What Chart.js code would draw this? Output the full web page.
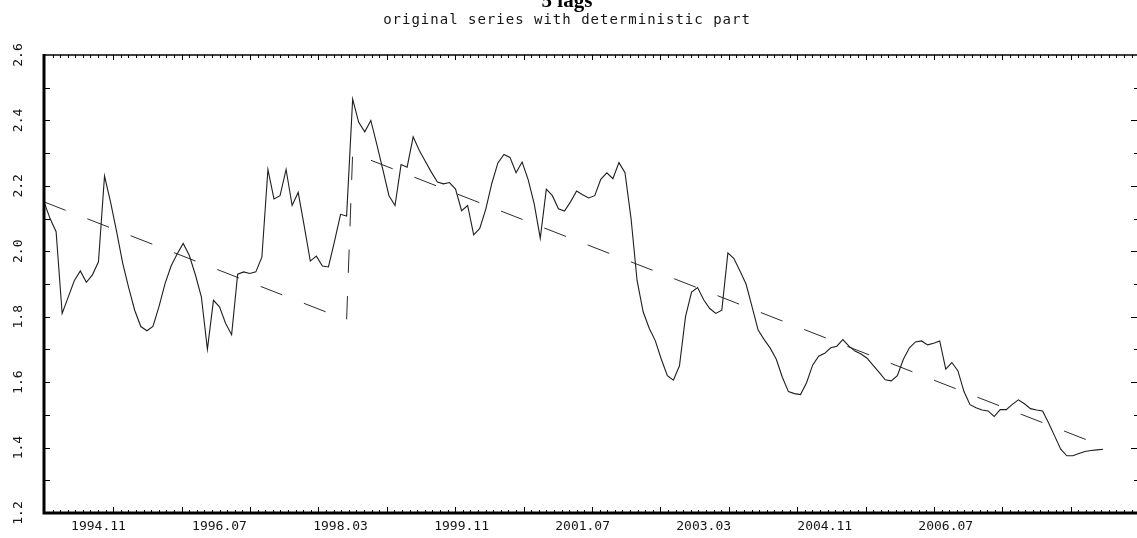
<!DOCTYPE html>
<html>
<head>
<meta charset="utf-8">
<script src="https://cdn.jsdelivr.net/npm/chart.js@4.4.0/dist/chart.umd.min.js"></script>
<style>
    html, body { margin: 0; padding: 0; background: #fff; }
</style>
</head>
<body>
<canvas id="chart" width="1137" height="538"></canvas>
<script>
// --- Data (monthly, index 0 = 1994.02) ---
const seriesValues = [
    2.151, 2.10, 2.06, 1.81, 1.86, 1.91, 1.94, 1.905, 1.928, 1.968,
    2.23, 2.15, 2.06, 1.964, 1.888, 1.819, 1.77, 1.757, 1.77, 1.831,
    1.901, 1.955, 1.992, 2.024, 1.988, 1.929, 1.861, 1.70, 1.85, 1.83,
    1.78, 1.745, 1.93, 1.937, 1.932, 1.937, 1.982, 2.25, 2.16, 2.17,
    2.25, 2.14, 2.18, 2.077, 1.97, 1.985, 1.955, 1.952, 2.03, 2.113,
    2.108, 2.465, 2.394, 2.365, 2.40, 2.326, 2.249, 2.17, 2.14, 2.265,
    2.257, 2.350, 2.309, 2.275, 2.242, 2.212, 2.206, 2.21, 2.19, 2.124,
    2.14, 2.05, 2.07, 2.129, 2.208, 2.27, 2.296, 2.287, 2.24, 2.273,
    2.219, 2.145, 2.04, 2.19, 2.17, 2.13, 2.123, 2.151, 2.184, 2.173,
    2.163, 2.17, 2.22, 2.24, 2.222, 2.271, 2.24, 2.10, 1.91, 1.815,
    1.765, 1.727, 1.67, 1.62, 1.606, 1.65, 1.80, 1.875, 1.889, 1.852,
    1.825, 1.81, 1.82, 1.995, 1.978, 1.94, 1.90, 1.83, 1.759, 1.73,
    1.704, 1.67, 1.615, 1.571, 1.565, 1.562, 1.598, 1.652, 1.679, 1.688,
    1.705, 1.71, 1.73, 1.71, 1.695, 1.686, 1.673, 1.651, 1.63, 1.607,
    1.604, 1.62, 1.67, 1.705, 1.723, 1.726, 1.714, 1.719, 1.726, 1.64,
    1.66, 1.635, 1.572, 1.531, 1.522, 1.515, 1.512, 1.495, 1.516, 1.516,
    1.532, 1.546, 1.534, 1.519, 1.515, 1.512, 1.475, 1.435, 1.395, 1.375,
    1.375, 1.382, 1.388, 1.391, 1.393, 1.395
];

// deterministic part: trend with a level shift between index 50 and 51
const trendIdx = [0, 50, 51, 175];
const trendValues = [2.151, 1.79, 2.30, 1.404];

const xTickIdx = [9, 29, 49, 69, 89, 109, 129, 149];
const xTickLabels = ['1994.11', '1996.07', '1998.03', '1999.11', '2001.07', '2003.03', '2004.11', '2006.07'];
const yTickLabels = ['1.2', '1.4', '1.6', '1.8', '2.0', '2.2', '2.4', '2.6'];

const titleText = '5 lags';
const subtitleText = 'original series with deterministic part';

// --- Styles ---
const monoFont = '"DejaVu Sans Mono", "Liberation Mono", monospace';
const textColor = '#151515';

// frame, inward tick marks, y labels and titles
const framePlugin = {
    id: 'frame',
    afterDraw(chart) {
        const { ctx, chartArea: a, scales: { x, y } } = chart;
        ctx.save();
        ctx.strokeStyle = '#000';

        // x tick marks (bottom and top), 9 minor steps per major
        ctx.lineWidth = 1;
        const majorStep = 11.3;
        const minorStep = majorStep / 9;
        for (let k = 1; ; k++) {
            const v = 0.15 + k * minorStep;
            if (v > x.max) break;
            const px = Math.round(x.getPixelForValue(v)) + 0.5;
            const major = k % 9 === 0;
            ctx.beginPath();
            ctx.moveTo(px, a.bottom);
            ctx.lineTo(px, a.bottom - (major ? 6 : 3));
            ctx.moveTo(px, a.top);
            ctx.lineTo(px, a.top + (major ? 5 : 3));
            ctx.stroke();
        }

        // y tick marks, every 0.1
        for (let i = 1; i < 14; i++) {
            const v = 1.2 + i * 0.1;
            const py = Math.round(y.getPixelForValue(v)) + 0.5;
            const major = i % 2 === 0;
            ctx.beginPath();
            ctx.moveTo(a.left, py);
            ctx.lineTo(a.left + 6, py);
            ctx.moveTo(a.right, py);
            ctx.lineTo(a.right - (major ? 6 : 3), py);
            ctx.stroke();
        }

        // top border (thin), left and bottom (thick)
        ctx.lineWidth = 1.6;
        ctx.beginPath();
        ctx.moveTo(a.left, a.top);
        ctx.lineTo(a.right, a.top);
        ctx.stroke();
        ctx.lineWidth = 3;
        ctx.beginPath();
        ctx.moveTo(a.left, a.top - 1);
        ctx.lineTo(a.left, a.bottom);
        ctx.lineTo(a.right, a.bottom);
        ctx.stroke();

        // rotated y labels
        ctx.fillStyle = textColor;
        ctx.font = '13px ' + monoFont;
        ctx.textAlign = 'center';
        ctx.textBaseline = 'middle';
        yTickLabels.forEach(lbl => {
            const py = y.getPixelForValue(parseFloat(lbl));
            ctx.save();
            ctx.translate(19, py);
            ctx.rotate(-Math.PI / 2);
            ctx.fillText(lbl, 0, 0);
            ctx.restore();
        });

        // titles
        const cx = 567;
        ctx.textBaseline = 'alphabetic';
        ctx.fillStyle = '#000';
        ctx.font = 'bold 21px "Liberation Serif", serif';
        ctx.fillText(titleText, cx, 7);
        ctx.fillStyle = textColor;
        ctx.font = '14px ' + monoFont;
        ctx.letterSpacing = '1px';
        ctx.fillText(subtitleText, cx, 24);
        ctx.restore();
    }
};

const ctx = document.getElementById('chart').getContext('2d');
new Chart(ctx, {
    type: 'line',
    data: {
        datasets: [
            {
                label: 'series',
                data: seriesValues.map((v, i) => ({ x: i, y: v })),
                borderColor: '#1e1e1e',
                borderWidth: 1.1,
                pointRadius: 0,
                tension: 0
            },
            {
                label: 'deterministic part',
                data: trendIdx.map((t, i) => ({ x: t, y: trendValues[i] })),
                borderColor: '#2a2a2a',
                borderWidth: 1,
                borderDash: [23.25, 23.25],
                pointRadius: 0,
                tension: 0
            }
        ]
    },
    options: {
        responsive: false,
        animation: false,
        layout: { padding: { top: 55, left: 0, right: 0, bottom: 0 } },
        plugins: {
            legend: { display: false },
            tooltip: { enabled: false }
        },
        scales: {
            x: {
                type: 'linear',
                min: 0,
                max: 180.6,
                grid: { display: false, drawTicks: false },
                border: { display: false },
                afterBuildTicks: s => { s.ticks = xTickIdx.map(v => ({ value: v })); },
                afterFit: s => { s.height = 25; },
                ticks: {
                    autoSkip: false,
                    maxRotation: 0,
                    minRotation: 0,
                    padding: 6,
                    color: textColor,
                    font: { family: monoFont, size: 13 },
                    callback: v => {
                        const i = xTickIdx.indexOf(v);
                        return i >= 0 ? xTickLabels[i] : '';
                    }
                }
            },
            y: {
                min: 1.2,
                max: 2.6,
                grid: { display: false },
                border: { display: false },
                ticks: { display: false, stepSize: 0.1 },
                afterFit: s => { s.width = 44; }
            }
        }
    },
    plugins: [framePlugin]
});
</script>
</body>
</html>
